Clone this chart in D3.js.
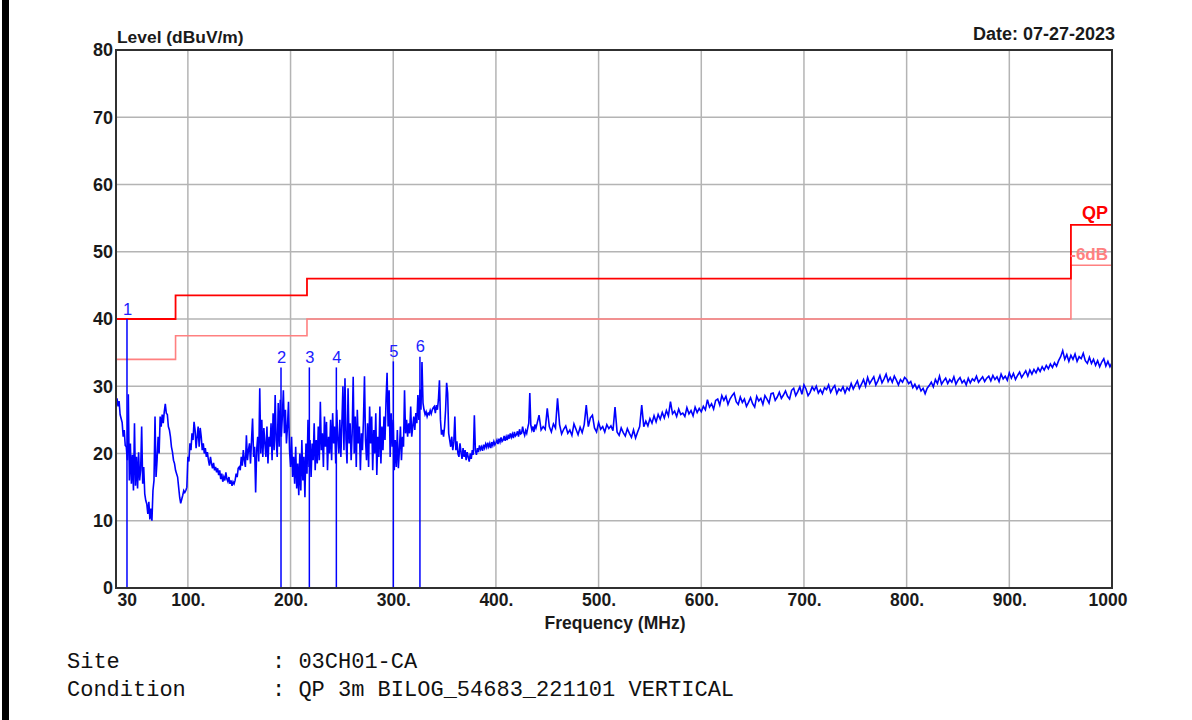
<!DOCTYPE html>
<html>
<head>
<meta charset="utf-8">
<script src="https://cdn.jsdelivr.net/npm/d3@7/dist/d3.min.js"></script>
<style>
  html, body { margin: 0; padding: 0; background: #fff; }
  svg { display: block; }
</style>
</head>
<body>
<svg id="chart" width="1192" height="720"></svg>
<script>
// ---- axis ticks ----
const levelTicks = [0, 10, 20, 30, 40, 50, 60, 70, 80];
const freqTicks = [30, 100, 200, 300, 400, 500, 600, 700, 800, 900, 1000];
const freqTickLabels = ["30", "100.", "200.", "300.", "400.", "500.", "600.", "700.", "800.", "900.", "1000"];

// ---- QP limit steps (break frequencies in MHz, level in dBuV/m per segment) ----
const limitBreaks = [30, 88, 216, 960, 1000];
const qpLimitLevels = [40, 43.5, 46, 54];
const marginOffset = 6;

// ---- peak markers ----
const markerIds = ["1", "2", "3", "4", "5", "6"];
const markerFreqs = [40.7, 190.7, 218.3, 244.6, 300.1, 326.0];
const markerLevels = [40.0, 32.8, 32.8, 32.8, 33.7, 34.4];

// ---- sweep, 30-439 MHz in 1 MHz steps ----
const sweepLowStart = 30, sweepLowStep = 1;
const sweepLowLevels = [
  27.5, 28.2, 27.0, 27.8, 25.8, 25.2, 24.6, 22.5, 23.5, 21.2,
  21.0, 19.0, 28.8, 16.0, 21.5, 15.5, 19.8, 14.5, 24.5, 15.2,
  19.5, 14.8, 20.2, 16.0, 17.5, 24.0, 15.5, 18.0, 14.0, 13.0,
  12.5, 11.0, 12.8, 10.2, 11.8, 10.0, 14.5, 16.0, 25.5, 16.5,
  19.0, 22.5, 20.0, 25.5, 24.0, 25.8, 24.5, 26.2, 27.4, 26.0,
  25.8, 24.0, 23.5, 22.5, 21.0, 20.2, 19.0, 18.5, 17.5, 17.0,
  16.5, 15.0, 13.5, 12.6, 13.2, 13.8, 14.5, 14.2, 14.5, 15.0,
  19.5, 18.8, 21.5, 20.5, 23.0, 22.0, 24.7, 23.5, 20.8, 22.5,
  24.0, 21.0, 23.8, 22.5, 20.5, 21.5, 20.0, 20.8, 19.5, 20.2,
  19.0, 18.2, 19.5, 18.5, 17.8, 18.6, 17.5, 18.0, 17.2, 17.8,
  16.8, 17.5, 16.2, 17.0, 15.8, 16.5, 16.0, 17.2, 16.2, 15.8,
  16.5, 15.5, 16.0, 15.2, 15.8, 15.5, 16.0, 17.0, 16.5, 17.8,
  18.0, 17.5, 19.5, 18.2, 20.5, 19.0, 18.0, 22.7, 19.0, 20.5,
  21.5, 18.5, 22.0, 25.2, 19.5, 21.0, 14.2, 20.5, 22.5, 18.8,
  29.7, 20.0, 25.0, 19.5, 23.8, 21.5, 19.5, 24.0, 18.5, 22.5,
  21.0, 24.5, 19.0, 26.0, 20.5, 28.7, 22.0, 19.5, 27.5, 21.0,
  28.0, 22.5, 25.5, 29.4, 23.0, 26.5, 21.5, 24.0, 27.7, 20.5,
  18.0, 22.5, 16.5, 19.5, 15.5, 21.0, 14.8, 18.5, 13.8, 20.0,
  14.5, 22.0, 16.0, 19.5, 13.5, 21.5, 17.0, 25.0, 18.0, 22.0,
  16.5, 21.5, 19.0, 24.5, 17.5, 22.0, 18.5, 24.0, 19.0, 27.7,
  20.5, 23.0, 18.0, 25.5, 21.0, 24.7, 17.5, 22.5, 20.0, 25.0,
  19.0, 26.0, 21.5, 24.0, 18.5, 26.5, 22.0, 20.0, 25.0, 19.5,
  24.5, 30.0, 20.5, 31.2, 22.0, 18.5, 29.7, 21.5, 24.5, 19.0,
  23.0, 31.4, 20.0, 25.5, 18.0, 26.5, 21.5, 24.0, 17.5, 23.0,
  20.5, 25.0, 31.5, 22.0, 19.0, 24.5, 18.0, 27.0, 21.5, 25.5,
  17.5, 23.5, 20.0, 26.0, 16.8, 22.5, 19.5, 27.0, 18.5, 24.0,
  20.5, 25.5, 22.0, 28.0, 32.0, 24.0, 29.4, 19.5, 26.0, 21.0,
  25.0, 17.5, 22.0, 18.0, 23.5, 17.8, 20.5, 24.0, 19.0, 22.5,
  21.0, 29.4, 23.0, 25.0, 22.5, 24.5, 23.0, 27.0, 22.5, 24.0,
  25.5, 23.5, 26.0, 24.5, 28.7, 25.0, 29.5, 26.5, 33.6, 27.5,
  26.5, 25.8, 26.2, 25.5, 26.0, 25.8, 26.4, 25.9, 26.5, 26.8,
  27.0, 26.0, 27.2, 26.5, 28.0, 30.9, 25.0, 22.8, 23.5, 22.5,
  24.0, 26.5, 30.5, 29.0, 23.0, 22.0, 21.0, 22.5, 20.5, 21.8,
  25.5, 20.5, 21.8, 20.0, 19.5, 21.5, 20.2, 19.2, 20.8, 19.5,
  20.5, 19.0, 20.2, 19.5, 18.8, 20.0, 19.2, 20.5, 19.8, 25.7,
  20.5, 19.8, 20.8, 20.2, 21.2, 20.6, 21.0, 20.4, 21.3, 20.8,
  21.4, 20.9, 21.6, 21.0, 21.5, 20.8, 21.7, 21.2, 21.8, 21.3,
  21.6, 22.0, 21.4, 22.2, 21.7, 22.4, 21.8, 22.0, 22.6, 21.9,
  22.5, 22.0, 22.8, 22.2, 23.0, 22.4, 22.9, 22.3, 23.2, 22.6,
  22.8, 23.3, 22.5, 23.6, 22.9, 23.0, 24.0, 23.2, 22.7, 23.4,
  23.0, 23.8, 24.5, 29.0, 24.2, 23.5, 24.0, 23.2, 24.3, 23.8
];

// ---- sweep, 440-1000 MHz in 2 MHz steps ----
const sweepHighStart = 440, sweepHighStep = 2;
const sweepHighLevels = [
  24.4,
  25.7, 23.5, 24.0, 23.6, 26.7, 24.0, 23.2, 24.4, 23.8, 28.2,
  24.3, 22.9, 23.6, 24.1, 23.0, 23.5, 22.7, 24.4, 23.6, 22.8,
  23.9, 23.1, 24.3, 27.2, 24.0, 25.3, 25.7, 23.8, 23.2, 24.6,
  23.6, 24.0, 23.2, 24.3, 23.7, 24.1, 23.4, 26.9, 23.2, 22.7,
  23.8, 23.1, 22.6, 23.7, 23.0, 22.4, 23.5, 22.3, 23.2, 24.0,
  27.2, 24.0, 24.8, 24.1, 25.2, 24.5, 25.6, 24.7, 25.8, 25.1,
  26.1, 25.3, 26.4, 25.6, 27.7, 25.9, 26.3, 25.5, 26.6, 25.8,
  26.0, 25.5, 26.8, 25.9, 26.4, 25.6, 26.9, 26.1, 26.7, 26.2,
  27.0, 26.5, 28.0, 26.9, 27.4, 26.6, 27.9, 28.1, 27.2, 28.6,
  27.9, 28.5, 27.3, 28.1, 28.6, 29.0, 27.7, 27.3, 28.4, 27.6,
  28.1, 27.0, 27.6, 28.3, 27.4, 26.9, 28.5, 27.8, 28.2, 27.3,
  28.6, 28.1, 27.5, 28.9, 29.0, 27.9, 28.4, 29.1, 28.2, 28.7,
  29.3, 28.5, 28.1, 29.4, 29.7, 28.6, 29.2, 29.9, 28.8, 30.2,
  29.6, 28.6, 29.1, 29.9, 29.4, 30.0, 29.0, 29.5, 28.9, 29.8,
  29.5, 30.2, 29.1, 29.7, 30.1, 28.9, 29.6, 29.3, 29.9, 29.0,
  29.8, 29.4, 30.4, 29.6, 30.2, 30.8, 29.7, 30.3, 31.0, 30.0,
  31.3, 30.4, 30.9, 31.4, 30.2, 30.8, 31.6, 30.5, 31.1, 31.8,
  30.7, 31.3, 30.6, 31.5, 30.9, 30.2, 31.0, 30.6, 31.3, 31.0,
  30.4, 30.7, 29.8, 30.3, 29.6, 30.1, 29.3, 29.7, 28.9, 29.7,
  30.1, 30.6, 29.9, 31.0, 30.4, 31.5, 30.3, 30.8, 31.2, 30.4,
  31.0, 30.6, 31.4, 30.3, 30.9, 31.3, 30.5, 30.9, 30.2, 31.2,
  30.5, 31.1, 30.8, 31.5, 30.6, 31.0, 31.4, 30.7, 31.2, 31.5,
  30.8, 31.6, 31.0, 31.4, 30.7, 31.8, 31.1, 31.5, 30.9, 32.0,
  31.2, 31.9, 31.0, 31.6, 32.1, 31.3, 31.8, 32.3, 31.5, 32.4,
  31.8, 32.5, 32.0, 32.7, 32.2, 32.9, 32.4, 33.1, 32.6, 33.3,
  32.8, 33.5, 33.0, 33.8, 34.4, 35.3, 34.0, 34.7, 33.7, 34.6,
  34.0, 34.8, 33.7, 34.4, 34.1, 34.9, 33.8, 33.4, 34.3, 33.4,
  34.0, 33.1, 33.8, 32.9, 33.6, 34.1, 33.0, 33.7, 32.9, 33.5
];

// ---- header / footer text ----
const yTitle = "Level (dBuV/m)";
const xTitle = "Frequency (MHz)";
const dateText = "Date: 07-27-2023";
const infoKeys = ["Site", "Condition"];
const infoValues = [": 03CH01-CA", ": QP 3m BILOG_54683_221101 VERTICAL"];

// ---- layout ----
const plot = { left: 116, right: 1112, top: 50, bottom: 588 };
const boldFont = "'Liberation Sans', Arial, sans-serif";

const svg = d3.select("#chart");

const x = d3.scaleLinear().domain([30, 1000]).range([plot.left, plot.right]);
const y = d3.scaleLinear().domain([0, 80]).range([plot.bottom, plot.top]);

// page edge bar
svg.append("rect").attr("x", 2).attr("y", 0).attr("width", 7).attr("height", 720).attr("fill", "#000");

// grid
const grid = svg.append("g").attr("stroke", "#b4b4b4").attr("stroke-width", 1.5);
grid.selectAll("line.v").data(freqTicks.slice(1, -1)).join("line")
  .attr("x1", d => x(d)).attr("x2", d => x(d))
  .attr("y1", plot.top).attr("y2", plot.bottom);
grid.selectAll("line.h").data(levelTicks.slice(1, -1)).join("line")
  .attr("x1", plot.left).attr("x2", plot.right)
  .attr("y1", d => y(d)).attr("y2", d => y(d));

// limit lines
const qpSteps = limitBreaks.map((f, i) => [f, qpLimitLevels[Math.min(i, qpLimitLevels.length - 1)]]);
const marginSteps = qpSteps.map(([f, l]) => [f, l - marginOffset]);
const stepLine = d3.line().x(d => x(d[0])).y(d => y(d[1])).curve(d3.curveStepAfter);

svg.append("path").attr("d", stepLine(marginSteps))
  .attr("fill", "none").attr("stroke", "#ff8080").attr("stroke-width", 1.6);
svg.append("path").attr("d", stepLine(qpSteps))
  .attr("fill", "none").attr("stroke", "#ff0000").attr("stroke-width", 1.8);

// sweep trace
const sweep = sweepLowLevels.map((v, i) => [sweepLowStart + i * sweepLowStep, v])
  .concat(sweepHighLevels.map((v, i) => [sweepHighStart + i * sweepHighStep, v]));
const traceLine = d3.line().x(d => x(d[0])).y(d => y(d[1]));
svg.append("path").attr("d", traceLine(sweep))
  .attr("fill", "none").attr("stroke", "#0000ff").attr("stroke-width", 1.6)
  .attr("stroke-linejoin", "miter");

// markers
const markers = markerIds.map((id, i) => ({ id, f: markerFreqs[i], v: markerLevels[i] }));
svg.append("g").selectAll("line").data(markers).join("line")
  .attr("x1", d => x(d.f)).attr("x2", d => x(d.f))
  .attr("y1", y(0)).attr("y2", d => y(d.v))
  .attr("stroke", "#0000ff").attr("stroke-width", 1.5);
svg.append("g").selectAll("text").data(markers).join("text")
  .attr("x", d => x(d.f) + 0.5).attr("y", d => y(d.v) - 4.5)
  .attr("text-anchor", "middle")
  .attr("font-family", boldFont).attr("font-size", 16.5)
  .attr("fill", "#2020ff")
  .text(d => d.id);

// frame
svg.append("rect")
  .attr("x", plot.left).attr("y", plot.top)
  .attr("width", plot.right - plot.left).attr("height", plot.bottom - plot.top)
  .attr("fill", "none").attr("stroke", "#303030").attr("stroke-width", 2);

// axes
const yAxis = d3.axisLeft(y).tickValues(levelTicks).tickSize(0).tickPadding(3);
const gy = svg.append("g").attr("transform", `translate(${plot.left},0)`).call(yAxis);
gy.select(".domain").remove();
gy.selectAll("text").attr("font-family", boldFont).attr("font-weight", "bold")
  .attr("font-size", 18).attr("fill", "#1a1a1a");

const xAxis = d3.axisBottom(x).tickValues(freqTicks)
  .tickFormat((d, i) => freqTickLabels[i]).tickSize(0).tickPadding(5.5);
const gx = svg.append("g").attr("transform", `translate(0,${plot.bottom})`).call(xAxis);
gx.select(".domain").remove();
gx.selectAll("text").attr("font-family", boldFont).attr("font-weight", "bold")
  .attr("font-size", 17.5).attr("fill", "#1a1a1a");
gx.selectAll("text").filter(d => d === 30).attr("text-anchor", "start").attr("dx", 1);
gx.selectAll("text").filter(d => d === 1000).attr("text-anchor", "end").attr("dx", 15);

// titles
svg.append("text").attr("x", plot.left + 1).attr("y", 43)
  .attr("font-family", boldFont).attr("font-weight", "bold").attr("font-size", 17.4)
  .attr("fill", "#1a1a1a").text(yTitle);
svg.append("text").attr("x", 1115).attr("y", 40).attr("text-anchor", "end")
  .attr("font-family", boldFont).attr("font-weight", "bold").attr("font-size", 18)
  .attr("fill", "#1a1a1a").text(dateText);
svg.append("text").attr("x", 615).attr("y", 629).attr("text-anchor", "middle")
  .attr("font-family", boldFont).attr("font-weight", "bold").attr("font-size", 17.5)
  .attr("fill", "#1a1a1a").text(xTitle);

// limit labels
svg.append("text").attr("x", 1108).attr("y", y(qpLimitLevels[3]) - 6).attr("text-anchor", "end")
  .attr("font-family", boldFont).attr("font-weight", "bold").attr("font-size", 18)
  .attr("fill", "#ff0000").text("QP");
svg.append("text").attr("x", 1108).attr("y", y(qpLimitLevels[3] - marginOffset) - 5.5).attr("text-anchor", "end")
  .attr("font-family", boldFont).attr("font-weight", "bold").attr("font-size", 17)
  .attr("fill", "#ff8080").text("-" + marginOffset + "dB");

// footer info
const info = svg.append("g").attr("font-family", "'Liberation Mono', 'DejaVu Sans Mono', monospace")
  .attr("font-size", 22).attr("fill", "#111");
infoKeys.forEach((k, i) => {
  info.append("text").attr("x", 67).attr("y", 668 + i * 28).text(k);
  info.append("text").attr("x", 272).attr("y", 668 + i * 28).attr("xml:space", "preserve").text(infoValues[i]);
});
</script>
</body>
</html>
